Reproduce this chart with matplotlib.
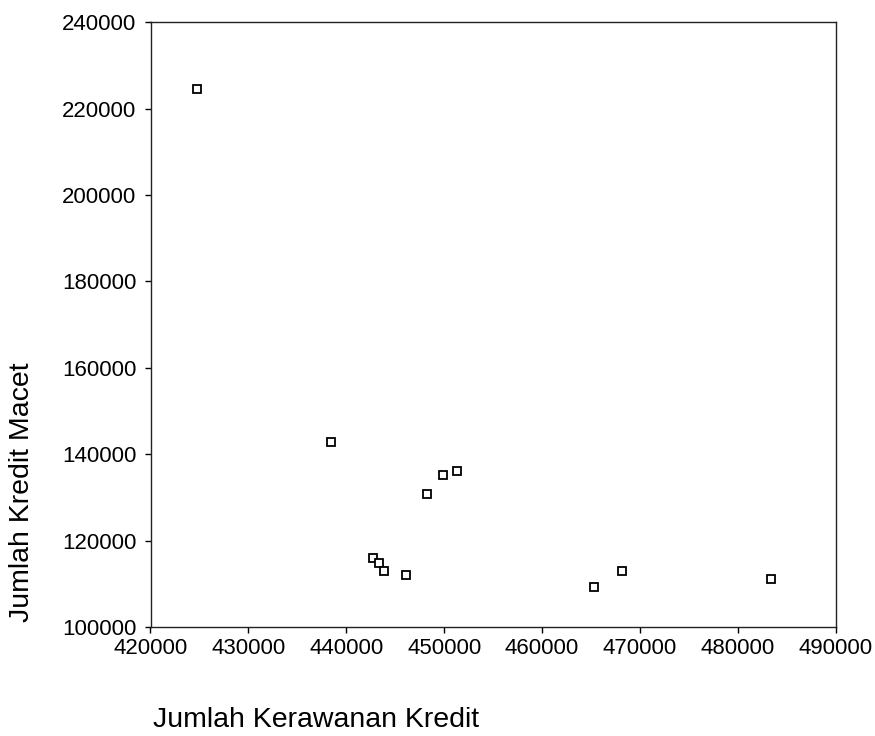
import matplotlib
matplotlib.use("Agg")
import matplotlib.pyplot as plt

plt.rcParams['font.family'] = ['Liberation Sans', 'DejaVu Sans']

# Data
kerawanan = [424700, 438400, 448300, 449900, 451300, 442700, 443300,
             443900, 446100, 465300, 468200, 483400]
macet = [224500, 142800, 130800, 135250, 136170, 115900, 114880,
         112960, 112040, 109330, 112960, 111040]

x_ticks = [420000, 430000, 440000, 450000, 460000, 470000, 480000, 490000]
y_ticks = [100000, 120000, 140000, 160000, 180000, 200000, 220000, 240000]

xlabel = "Jumlah Kerawanan Kredit"
ylabel = "Jumlah Kredit Macet"

fig = plt.figure(figsize=(8.75, 7.36), dpi=100)
ax = fig.add_axes([0.172, 0.148, 0.783, 0.822])

ax.plot(kerawanan, macet, linestyle='none', marker='s', markersize=5.5,
        markerfacecolor='white', markeredgecolor='black', markeredgewidth=1.3)

ax.set_xlim(420000, 490000)
ax.set_ylim(100000, 240000)
ax.set_xticks(x_ticks)
ax.set_yticks(y_ticks)
ax.set_xticklabels([str(v) for v in x_ticks])
ax.set_yticklabels([str(v) for v in y_ticks])
ax.tick_params(direction='out', length=4, width=1, labelsize=16, pad=4,
               colors='black')
ax.tick_params(axis='y', pad=6)

for s in ax.spines.values():
    s.set_linewidth(1.0)
    s.set_color('#222222')

ax.set_xlabel(xlabel, fontsize=20.5, ha='left', va='center')
ax.xaxis.set_label_coords(0.003, -0.154)
ax.set_ylabel(ylabel, fontsize=20.5, ha='center', va='center')
ax.yaxis.set_label_coords(-0.188, 0.223)

fig.savefig("out.png", dpi=100, facecolor='white')
